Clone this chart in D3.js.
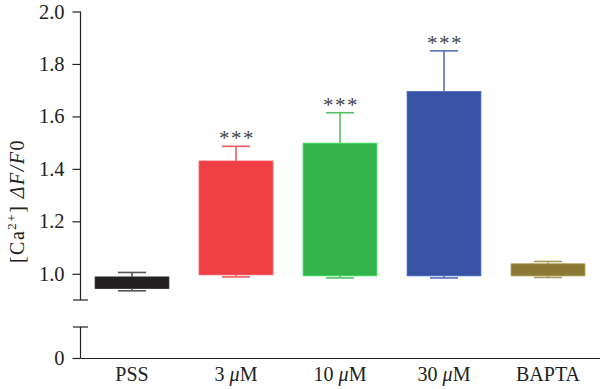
<!DOCTYPE html>
<html><head><meta charset="utf-8">
<script src="https://cdn.jsdelivr.net/npm/d3@7"></script>
<style>body{margin:0;background:#fff}svg{display:block}text{font-family:"Liberation Serif","Times New Roman",serif}</style>
</head><body><svg id="c" width="600" height="389"></svg>
<script>
const categories = ["PSS", "3 μM", "10 μM", "30 μM", "BAPTA"];
const barLow  = [0.944, 0.996, 0.992, 0.992, 0.992];
const barHigh = [0.988, 1.430, 1.498, 1.695, 1.038];
const errLow  = [0.935, 0.988, 0.984, 0.984, 0.986];
const errHigh = [1.005, 1.486, 1.614, 1.850, 1.047];
const stars   = ["", "***", "***", "***", ""];
const yTicks  = [1.0, 1.2, 1.4, 1.6, 1.8, 2.0];
const fills   = ["#231f20", "#ef4046", "#32b44b", "#3953a4", "#8a7a36"];
const errCols = ["#555555", "#f05a5e", "#55c065", "#5b70b8", "#a8995c"];

const FONT = '"Liberation Serif","Times New Roman",serif';
const svg = d3.select("#c");
const axisX = 80.5;
const x = d3.scaleBand().domain(categories).range([80, 600]).paddingInner(0.29).paddingOuter(0.145);
const y = d3.scaleLinear().domain([0.9, 2.0]).range([300, 11.5]);
const yLow = d3.scaleLinear().domain([0, 0.1]).range([358, 327]);

// bars
const g = svg.append("g");
categories.forEach((c, i) => {
  const cx = x(c) + x.bandwidth() / 2;
  g.append("rect").attr("x", x(c)).attr("width", x.bandwidth())
    .attr("y", y(barHigh[i])).attr("height", y(barLow[i]) - y(barHigh[i]))
    .attr("fill", fills[i]).attr("stroke", d3.color(fills[i]).brighter(0.6)).attr("stroke-width", 0.8);
  const cw = 14;
  const eg = g.append("g").attr("stroke", errCols[i]).attr("stroke-width", 1.6);
  eg.append("line").attr("x1", cx).attr("x2", cx).attr("y1", y(barHigh[i])).attr("y2", y(errHigh[i]));
  eg.append("line").attr("x1", cx - cw).attr("x2", cx + cw).attr("y1", y(errHigh[i])).attr("y2", y(errHigh[i]));
  eg.append("line").attr("x1", cx).attr("x2", cx).attr("y1", y(barLow[i])).attr("y2", y(errLow[i]));
  eg.append("line").attr("x1", cx - cw).attr("x2", cx + cw).attr("y1", y(errLow[i])).attr("y2", y(errLow[i]));
  if (stars[i]) {
    g.append("text").attr("x", cx + 1).attr("y", y(errHigh[i]) - 1).attr("text-anchor", "middle")
      .attr("font-size", 21).attr("letter-spacing", 1.5).attr("fill", "#444").text(stars[i]);
  }
});

// upper y axis
const ax = svg.append("g").attr("transform", `translate(${axisX},0)`)
  .call(d3.axisLeft(y).tickValues(yTicks).tickFormat(d3.format(".1f")).tickSize(8).tickSizeOuter(0));
ax.select(".domain").remove();
ax.append("line").attr("x1", 0).attr("x2", 0).attr("y1", y(2.0)).attr("y2", y(0.9)).attr("stroke", "#222").attr("stroke-width", 1.2);
ax.selectAll(".tick line").attr("stroke", "#222").attr("stroke-width", 1.2);
ax.selectAll(".tick text").attr("font-size", 20.5).attr("fill", "#222").attr("x", -16)
  .style("font-family", FONT);
ax.append("line").attr("x1", -7.5).attr("x2", 7.5).attr("y1", y(0.9)).attr("y2", y(0.9)).attr("stroke", "#222").attr("stroke-width", 1.2);

// lower y axis
const ax2 = svg.append("g").attr("transform", `translate(${axisX},0)`)
  .call(d3.axisLeft(yLow).tickValues([0]).tickFormat(d3.format("d")).tickSize(8).tickSizeOuter(0));
ax2.select(".domain").remove();
ax2.append("line").attr("x1", 0).attr("x2", 0).attr("y1", yLow(0.1)).attr("y2", yLow(0)).attr("stroke", "#222").attr("stroke-width", 1.2);
ax2.append("line").attr("x1", -7.5).attr("x2", 7.5).attr("y1", yLow(0.1)).attr("y2", yLow(0.1)).attr("stroke", "#222").attr("stroke-width", 1.2);
ax2.selectAll(".tick line").attr("stroke", "#222").attr("stroke-width", 1.2);
ax2.selectAll(".tick text").attr("font-size", 20.5).attr("fill", "#222").attr("x", -16)
  .style("font-family", FONT);

// x axis
const xa = svg.append("g").attr("transform", `translate(0,${yLow(0)})`)
  .call(d3.axisBottom(x).tickSize(0).tickSizeOuter(0));
xa.select(".domain").attr("stroke", "#222").attr("stroke-width", 1.2);
xa.selectAll(".tick text").attr("font-size", 20).attr("fill", "#222").attr("dy", "0.71em").attr("y", 9)
  .style("font-family", FONT)
  .each(function (d) {
    const t = d3.select(this); t.text(null);
    const parts = d.split("μ");
    if (parts.length === 2) {
      t.append("tspan").text(parts[0]);
      t.append("tspan").attr("font-style", "italic").text("μ");
      t.append("tspan").text(parts[1]);
    } else t.text(d);
  });

// y label
const yl = svg.append("text").attr("transform", "translate(24,201) rotate(-90)")
  .attr("text-anchor", "middle").attr("font-size", 20).attr("letter-spacing", 1.5).attr("fill", "#222");
yl.append("tspan").text("[Ca");
yl.append("tspan").attr("font-size", 13).attr("dy", -8).text("2+");
yl.append("tspan").attr("dy", 8).text("] ");
yl.append("tspan").attr("font-style", "italic").text("ΔF/F");
yl.append("tspan").text("0");
</script></body></html>
